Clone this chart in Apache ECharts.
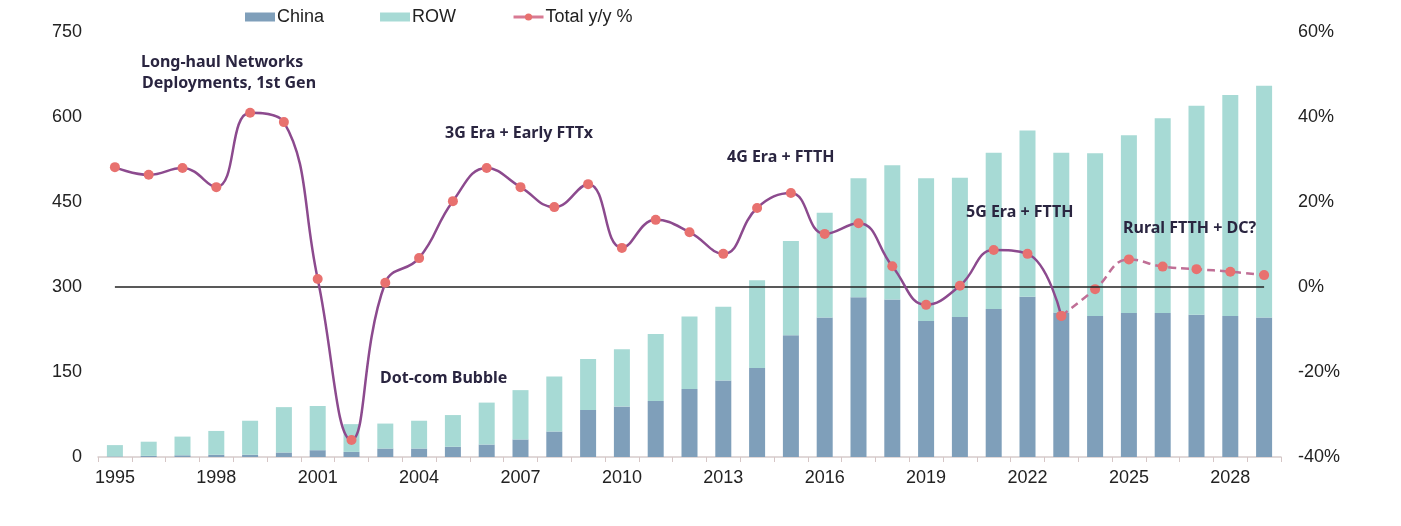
<!DOCTYPE html>
<html>
<head>
<meta charset="utf-8">
<script src="https://cdn.jsdelivr.net/npm/echarts@6/dist/echarts.min.js"></script>
<style>html,body{margin:0;padding:0;background:#fff;}#c{width:1401px;height:526px;}</style>
</head>
<body>
<div id="c"></div>
<script>
const years = ['1995','1996','1997','1998','1999','2000','2001','2002','2003','2004','2005','2006','2007','2008','2009','2010','2011','2012','2013','2014','2015','2016','2017','2018','2019','2020','2021','2022','2023','2024','2025','2026','2027','2028','2029'];
const china = [1,2,3,4,4,8,12,9,15,15,18,22,31,45,83,89,99,120,135,157,215,246,282,278,240,247,261,283,255,249,254,254,251,249,246];
const row = [20,25,33,42,60,80,78,49,44,49,56,74,87,97,90,101,118,128,130,155,166,185,210,237,252,246,276,293,282,287,314,344,369,390,409];
const yoyActual = [28.2,26.4,28,23.5,41,38.8,1.9,-36,1,6.8,20.2,28,23.5,18.8,24.2,9.2,15.8,12.9,7.8,18.6,22.1,12.5,15,4.9,-4.2,0.3,8.7,7.8,-6.8,'-','-','-','-','-','-'];
const yoyForecast = ['-','-','-','-','-','-','-','-','-','-','-','-','-','-','-','-','-','-','-','-','-','-','-','-','-','-','-','-',-6.8,-0.5,6.5,4.8,4.2,3.6,2.8];
const leftTicks = {min:0, max:750, interval:150};
const rightTicks = {min:-40, max:60, interval:20};
const notes = [
  {text:'Long-haul Networks', x:141, y:64},
  {text:'Deployments, 1st Gen', x:142, y:85},
  {text:'3G Era + Early FTTx', x:445, y:135},
  {text:'4G Era + FTTH', x:727, y:159},
  {text:'5G Era + FTTH', x:966, y:214},
  {text:'Rural FTTH + DC?', x:1123, y:230},
  {text:'Dot-com Bubble', x:380, y:380}
];

const chart = echarts.init(document.getElementById('c'));
const labelFont = {fontFamily:'Liberation Sans, Arial, sans-serif', fontSize:18, color:'#222'};
chart.setOption({
  animation:false,
  backgroundColor:'#fff',
  grid:{left:98, right:120, top:32, bottom:69},
  legend:{
    left:240, top:3, itemWidth:30, itemHeight:9, itemGap:56,
    data:[{name:'China', icon:'rect'},{name:'ROW', icon:'rect'},
      {name:'Total y/y %', lineStyle:{color:'#d87a93', width:3}, itemStyle:{color:'#e8716f'}}],
    textStyle:{fontFamily:'Liberation Sans, Arial, sans-serif', fontSize:18, color:'#222', padding:[0,0,0,-3]}
  },
  xAxis:{
    type:'category', data:years, boundaryGap:true,
    axisLine:{lineStyle:{color:'#d6cccc', width:1.5}},
    axisTick:{show:true, interval:0, length:5, lineStyle:{color:'#d6c6c6'}},
    axisLabel:Object.assign({interval:2, margin:12}, labelFont)
  },
  yAxis:[
    Object.assign({type:'value', position:'left', splitLine:{show:false}, axisLine:{show:false}, axisTick:{show:false},
      axisLabel:Object.assign({margin:16}, labelFont)}, leftTicks),
    Object.assign({type:'value', position:'right', splitLine:{show:false}, axisLine:{show:false}, axisTick:{show:false},
      axisLabel:Object.assign({margin:17, formatter:'{value}%'}, labelFont)}, rightTicks)
  ],
  series:[
    {name:'China', type:'bar', stack:'t', barWidth:16, data:china, itemStyle:{color:'#7f9fba'}},
    {name:'ROW', type:'bar', stack:'t', barWidth:16, data:row, itemStyle:{color:'#a7dad5'}},
    {name:'Total y/y %', type:'line', yAxisIndex:1, data:yoyActual, smooth:0.45, symbol:'circle', symbolSize:10,
      itemStyle:{color:'#e8716f'}, lineStyle:{color:'#8c4a8e', width:2.5}, z:5,
      markLine:{silent:true, symbol:'none', label:{show:false}, lineStyle:{color:'#222', width:1.5, type:'solid'},
        data:[[{coord:['1995',0]},{coord:['2029',0]}]]}},
    {name:'Forecast', type:'line', yAxisIndex:1, data:yoyForecast, smooth:0.45, symbol:'circle', symbolSize:10,
      itemStyle:{color:'#e8716f'}, lineStyle:{color:'#c06f96', width:2.5, type:[8,5]}, z:4}
  ],
  graphic: notes.map(n => ({type:'text', left:n.x, top:n.y-10, z:10,
    style:{text:n.text, font:'bold 16px "Noto Sans", sans-serif', fill:'#2a2540'}}))
});
</script>
</body>
</html>
